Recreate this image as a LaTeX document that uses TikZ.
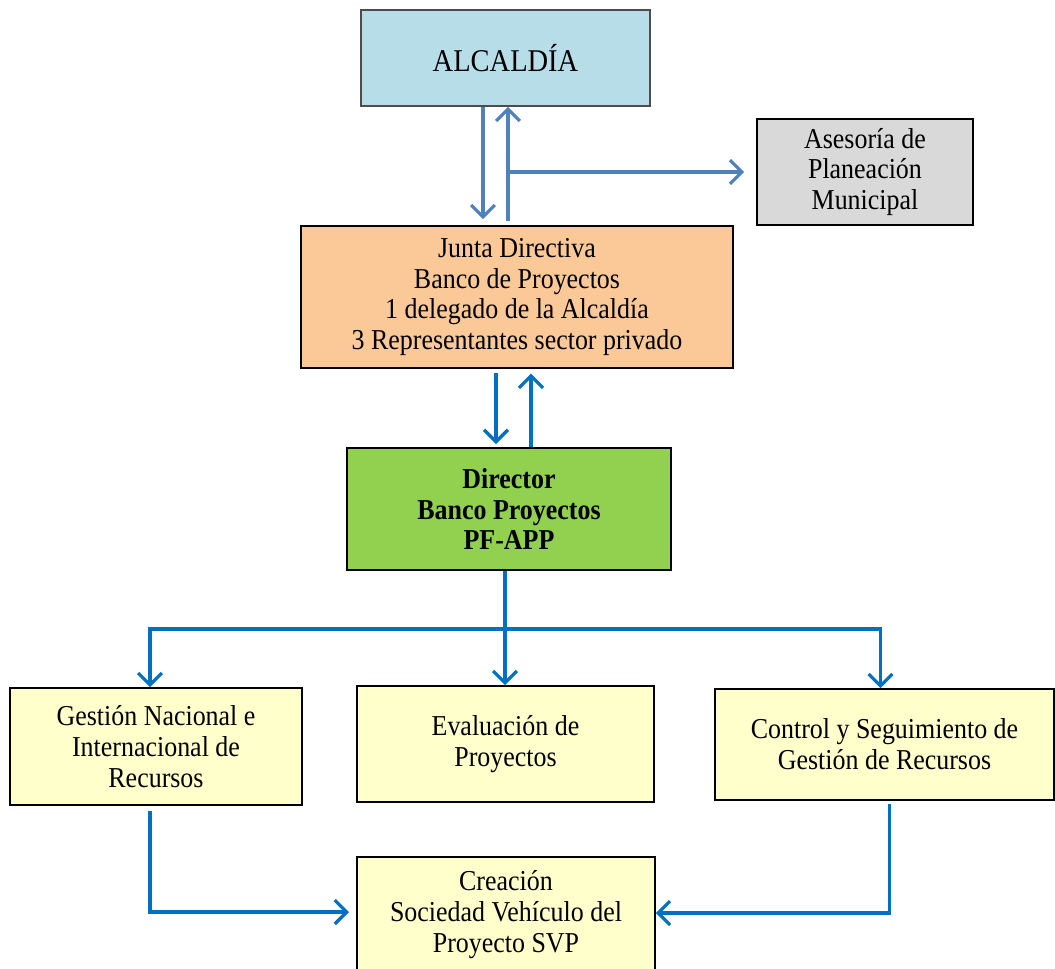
\documentclass[tikz,border=0pt]{standalone}
\usepackage{fontspec}
\setmainfont{Liberation Serif}[FakeStretch=0.9]
\usetikzlibrary{arrows.meta}
\definecolor{celeste}{HTML}{B7DEE8}
\definecolor{grisclaro}{HTML}{D9D9D9}
\definecolor{durazno}{HTML}{FBC998}
\definecolor{verdeclaro}{HTML}{92D050}
\definecolor{amarillo}{HTML}{FFFFCC}
\definecolor{azulsuave}{HTML}{4F81BD}
\definecolor{azulfuerte}{HTML}{0070C0}

\begin{document}
\begin{tikzpicture}[x=0.025cm, y=-0.025cm,
    caja/.style={draw, line width=1.1pt, align=center, inner sep=0pt,
      font=\fontsize{20.5}{22}\selectfont},
    flecha/.style={line width=2.3pt, -{Straight Barb[length=8.5pt,width=17pt]}},
  ]
    \useasboundingbox (0,0) rectangle (1055,969);
    % cajas
    \node[caja, fill=celeste, draw=black!70, minimum width=7.225cm, minimum height=2.4cm,
      font=\fontsize{22.5}{26}\selectfont] (alc) at (505.5,58) {ALCALDÍA};
    \node[caja, fill=grisclaro, minimum width=5.4cm, minimum height=2.65cm] (ases) at (865,172)
      {Asesoría de\\Planeación\\Municipal};
    \node[caja, fill=durazno, minimum width=10.8cm, minimum height=3.55cm] (junta) at (517,297)
      {Junta Directiva\\Banco de Proyectos\\1 delegado de la Alcaldía\\3 Representantes sector privado};
    \node[caja, fill=verdeclaro, minimum width=8.1cm, minimum height=3.05cm,
      font=\fontsize{20.5}{22}\selectfont\bfseries] (dir) at (509,509)
      {Director\\Banco Proyectos\\PF-APP};
    \node[caja, fill=amarillo, minimum width=7.3cm, minimum height=2.925cm] (gest) at (156,746.5)
      {Gestión Nacional e\\Internacional de\\Recursos};
    \node[caja, fill=amarillo, minimum width=7.425cm, minimum height=2.9cm] (eval) at (505.5,744)
      {Evaluación de\\Proyectos};
    \node[caja, fill=amarillo, minimum width=8.475cm, minimum height=2.775cm] (ctrl) at (884.5,744.5)
      {Control y Seguimiento de\\Gestión de Recursos};
    \node[caja, fill=amarillo, minimum width=7.45cm, minimum height=2.9cm] (crea) at (506,915)
      {Creación\\Sociedad Vehículo del\\Proyecto SVP};
    \coordinate (bus) at (505,629);

    % alcaldia - junta - asesoria
    \begin{scope}[azulsuave]
      \draw[flecha, shorten >=0.15cm] ([xshift=-0.5625cm]alc.south) -- ([xshift=-0.5625cm]alc.south |- junta.north);
      \draw[flecha, shorten <=0.1cm] ([xshift=0.0625cm]alc.south |- junta.north) -- ([xshift=0.0625cm]alc.south);
      \draw[flecha, shorten >=0.3cm] ([xshift=0.1125cm]alc.south |- ases.west) -- (ases.west);
    \end{scope}

    % junta - director
    \begin{scope}[azulfuerte]
      \draw[flecha, shorten <=0.1cm, shorten >=0.08cm] ([xshift=-0.525cm]junta.south) -- ([xshift=-0.525cm]junta.south |- dir.north);
      \draw[flecha, shorten >=0.12cm] ([xshift=0.35cm]junta.south |- dir.north) -- ([xshift=0.35cm]junta.south);
      % director - areas
      \draw[flecha] ([xshift=-0.1cm]dir.south) -- ([xshift=-0.1cm]dir.south |- eval.north);
      \draw[flecha] (bus) -| ([xshift=-0.15cm]gest.north);
      \draw[flecha] (bus) -| ([xshift=-0.1cm]ctrl.north);
      % areas - creacion
      \draw[flecha, shorten <=0.12cm, shorten >=0.18cm] ([xshift=-0.15cm]gest.south) |- ([yshift=0.075cm]crea.west);
      \draw[flecha, shorten <=0.08cm] ([xshift=0.125cm]ctrl.south) |- ([yshift=0.05cm]crea.east);
    \end{scope}
\end{tikzpicture}
\end{document}
